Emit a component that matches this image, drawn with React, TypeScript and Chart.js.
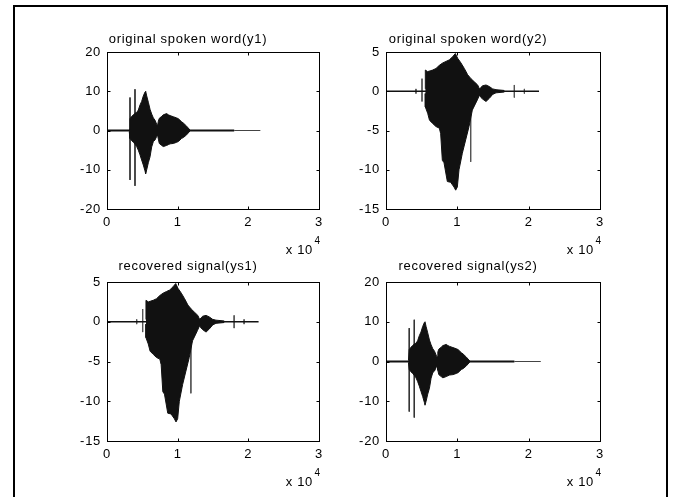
import React, { useEffect, useRef } from 'react';
import { Chart, registerables } from 'chart.js';

Chart.register(...registerables);

// ---------- data ----------
const xTicks = [0, 10000, 20000, 30000];

// waveform y1 (also used for recovered ys2)
const y1EnvX = [3150, 3250, 3500, 3750, 3960, 4200, 4430, 4670, 4900, 5140, 5380, 5470, 5620, 5850, 6090, 6320, 6560, 6800, 7030, 7150, 7270, 7400, 7740, 7970, 8440, 8680, 8920, 9390, 9860, 10100, 10570, 10800, 11270, 11750];
const y1Upper = [0.3, 3.0, 3.6, 4.0, 4.4, 4.6, 5.2, 6.5, 7.4, 8.8, 9.8, 10.0, 8.8, 7.2, 5.4, 4.2, 3.2, 2.6, 1.6, 1.2, 2.4, 3.1, 3.6, 4.0, 4.3, 4.0, 3.8, 3.5, 3.2, 3.0, 2.2, 1.9, 1.1, 0.1];
const y1Lower = [-0.3, -2.0, -2.6, -3.0, -3.5, -4.1, -5.0, -6.2, -7.5, -8.8, -10.3, -11.0, -10.0, -8.2, -6.7, -4.2, -2.8, -2.4, -1.5, -1.1, -2.2, -3.3, -3.8, -4.1, -3.8, -3.6, -3.4, -3.3, -3.0, -2.8, -2.0, -1.8, -1.1, -0.1];
const y1SpikeX = [3255, 3962];
const y1SpikeTop = [8.4, 10.5];
const y1SpikeBottom = [-12.6, -14.1];
const y1ThickEnd = 18000;
const y1End = 21700;

// waveform y2 (also used for recovered ys1)
const y2UpperX = [5500, 5514, 5841, 6200, 6542, 7009, 7477, 7944, 8411, 8879, 9346, 9720, 10047, 10514, 10981, 11449, 11916, 12383, 12851, 13100, 13318, 13552, 14019, 14486, 14954, 15421, 16589];
const y2Upper = [0.3, 2.7, 2.5, 2.6, 2.7, 2.9, 3.3, 3.6, 3.8, 4.0, 4.4, 4.8, 4.2, 3.6, 2.9, 2.1, 1.6, 1.2, 0.8, 0.3, 0.5, 0.7, 0.8, 0.6, 0.3, 0.2, 0.1];
const y2LowerX = [5500, 5514, 5841, 6100, 6542, 7009, 7477, 7664, 7898, 8131, 8598, 9066, 9533, 9766, 10000, 10234, 10701, 11168, 11636, 12103, 12804, 13100, 13318, 13552, 14019, 14486, 14954, 15421, 16589];
const y2Lower = [-0.3, -2.0, -2.8, -3.7, -4.1, -4.5, -4.7, -5.4, -8.8, -9.1, -11.5, -11.6, -12.2, -12.6, -12.2, -10.0, -7.9, -6.2, -4.5, -2.4, -1.1, -0.5, -0.8, -1.0, -1.3, -0.9, -0.4, -0.2, -0.1];
const y2SpikeX = [4200, 5047, 11870, 17990, 19400];
const y2SpikeTop = [0.3, 1.6, 0, 0.8, 0.3];
const y2SpikeBottom = [-0.3, -1.3, -9.0, -0.8, -0.3];
const y2End = 21450;

// ---------- subplot layout ----------
const plots = [
  { title: 'original spoken word(y1)', shape: 'y1', left: 107, top: 52, w: 212, h: 157, yMin: -20, yMax: 20, yStep: 10, padTop: 9.4 },
  { title: 'original spoken word(y2)', shape: 'y2', left: 386, top: 52, w: 214, h: 157, yMin: -15, yMax: 5, yStep: 5, padTop: 9.4 },
  { title: 'recovered signal(ys1)', shape: 'y2', left: 107, top: 282, w: 212, h: 159, yMin: -15, yMax: 5, yStep: 5, padTop: 6.5 },
  { title: 'recovered signal(ys2)', shape: 'y1', left: 386, top: 282, w: 214, h: 159, yMin: -20, yMax: 20, yStep: 10, padTop: 6.5 },
];

const INK = '#111';
const FONT = '"Liberation Sans", Arial, sans-serif';
const M_LEFT = 50, M_RIGHT = 50, M_TOP = 30, M_BOTTOM = 50;

function pts(xs: number[], ys: number[]) {
  return xs.map((x, i) => ({ x, y: ys[i] }));
}
function spikes(xs: number[], tops: number[], bottoms: number[]) {
  const out: any[] = [];
  xs.forEach((x, i) => {
    out.push({ x, y: tops[i] }, { x, y: bottoms[i] }, { x, y: null });
  });
  return out;
}

function buildDatasets(shape: string): any[] {
  const base = { pointRadius: 0, tension: 0, borderJoinStyle: 'miter' };
  if (shape === 'y1') {
    return [
      { ...base, data: pts(y1EnvX, y1Upper), borderColor: INK, backgroundColor: INK, borderWidth: 1, fill: '+1' },
      { ...base, data: pts(y1EnvX, y1Lower), borderColor: INK, backgroundColor: INK, borderWidth: 1, fill: false },
      { ...base, data: [{ x: 0, y: 0 }, { x: y1ThickEnd, y: 0 }], borderColor: INK, borderWidth: 2, fill: false },
      { ...base, data: [{ x: y1ThickEnd, y: 0 }, { x: y1End, y: 0 }], borderColor: '#444', borderWidth: 1, fill: false },
      { ...base, data: spikes(y1SpikeX, y1SpikeTop, y1SpikeBottom), borderColor: '#333', borderWidth: 1, fill: false, spanGaps: false },
    ];
  }
  return [
    { ...base, data: pts(y2UpperX, y2Upper), borderColor: INK, backgroundColor: INK, borderWidth: 1, fill: '+1' },
    { ...base, data: pts(y2LowerX, y2Lower), borderColor: INK, backgroundColor: INK, borderWidth: 1, fill: false },
    { ...base, data: [{ x: 0, y: 0 }, { x: y2End, y: 0 }], borderColor: INK, borderWidth: 1.5, fill: false },
    { ...base, data: spikes(y2SpikeX, y2SpikeTop, y2SpikeBottom), borderColor: '#555', borderWidth: 1, fill: false, spanGaps: false },
  ];
}

const spacingPlugin = {
  id: 'spacing',
  beforeDraw(chart: any) {
    chart.ctx.letterSpacing = '0.7px';
  },
};

const boxPlugin = {
  id: 'box',
  afterDatasetsDraw(chart: any) {
    const { ctx, chartArea: a, scales } = chart;
    ctx.save();
    ctx.strokeStyle = '#000';
    ctx.lineWidth = 1;
    ctx.strokeRect(a.left + 0.5, a.top + 0.5, a.right - a.left, a.bottom - a.top);
    const tl = 3;
    ctx.beginPath();
    scales.x.ticks.forEach((t: any) => {
      const px = Math.round(scales.x.getPixelForValue(t.value)) + 0.5;
      ctx.moveTo(px, a.bottom + 0.5); ctx.lineTo(px, a.bottom + 0.5 - tl);
      ctx.moveTo(px, a.top + 0.5); ctx.lineTo(px, a.top + 0.5 + tl);
    });
    scales.y.ticks.forEach((t: any) => {
      const py = Math.round(scales.y.getPixelForValue(t.value)) + 0.5;
      ctx.moveTo(a.left + 0.5, py); ctx.lineTo(a.left + 0.5 + tl, py);
      ctx.moveTo(a.right + 0.5, py); ctx.lineTo(a.right + 0.5 - tl, py);
    });
    ctx.stroke();
    // exponent label
    ctx.fillStyle = '#000';
    ctx.font = '13px ' + FONT;
    ctx.textAlign = 'right';
    ctx.textBaseline = 'middle';
    ctx.fillText('x 10', a.right - 6, a.bottom + 41.5);
    ctx.font = '10px ' + FONT;
    ctx.textAlign = 'left';
    ctx.fillText('4', a.right - 4.5, a.bottom + 32.5);
    ctx.restore();
  },
};

function Subplot({ cfg }: { cfg: typeof plots[number] }) {
  const ref = useRef<HTMLCanvasElement>(null);
  const cw = cfg.w + M_LEFT + M_RIGHT;
  const ch = cfg.h + M_TOP + M_BOTTOM;
  useEffect(() => {
    if (!ref.current) return;
    const chart = new Chart(ref.current, {
      type: 'line',
      data: { datasets: buildDatasets(cfg.shape) },
      plugins: [spacingPlugin, boxPlugin],
      options: {
        animation: false,
        responsive: false,
        devicePixelRatio: 1,
        layout: { padding: { left: 0, right: M_RIGHT, top: 0, bottom: 0 } },
        plugins: {
          legend: { display: false },
          tooltip: { enabled: false },
          title: {
            display: true,
            text: cfg.title,
            color: '#000',
            font: { family: FONT, size: 13, weight: 'normal', lineHeight: 1.2 },
            padding: { top: cfg.padTop, bottom: M_TOP - cfg.padTop - 15.6 },
          },
        },
        scales: {
          x: {
            type: 'linear',
            min: 0,
            max: 30000,
            afterFit: (s: any) => { s.height = M_BOTTOM; },
            afterBuildTicks: (s: any) => { s.ticks = xTicks.map((v) => ({ value: v })); },
            grid: { display: false, drawTicks: false },
            border: { display: false },
            ticks: {
              color: '#000',
              padding: 6,
              maxRotation: 0,
              autoSkip: false,
              font: { family: FONT, size: 13 },
              callback: (v: any) => String(Number(v) / 10000),
            },
          },
          y: {
            type: 'linear',
            min: cfg.yMin,
            max: cfg.yMax,
            afterFit: (s: any) => { s.width = M_LEFT; },
            grid: { display: false, drawTicks: false },
            border: { display: false },
            ticks: {
              color: '#000',
              padding: 6,
              stepSize: cfg.yStep,
              autoSkip: false,
              font: { family: FONT, size: 13 },
            },
          },
        },
      } as any,
    });
    return () => chart.destroy();
  }, []);
  return (
    <canvas
      ref={ref}
      width={cw}
      height={ch}
      style={{ position: 'absolute', left: cfg.left - M_LEFT, top: cfg.top - M_TOP, width: cw, height: ch }}
    />
  );
}

export default function App() {
  return (
    <div style={{ position: 'fixed', left: 0, top: 0, width: 674, height: 497, background: '#fff', overflow: 'hidden' }}>
      <div
        style={{
          position: 'absolute', left: 13, top: 5, width: 655, height: 520,
          border: '2px solid #000', boxSizing: 'border-box',
        }}
      />
      {plots.map((p, i) => (
        <Subplot key={i} cfg={p} />
      ))}
    </div>
  );
}
